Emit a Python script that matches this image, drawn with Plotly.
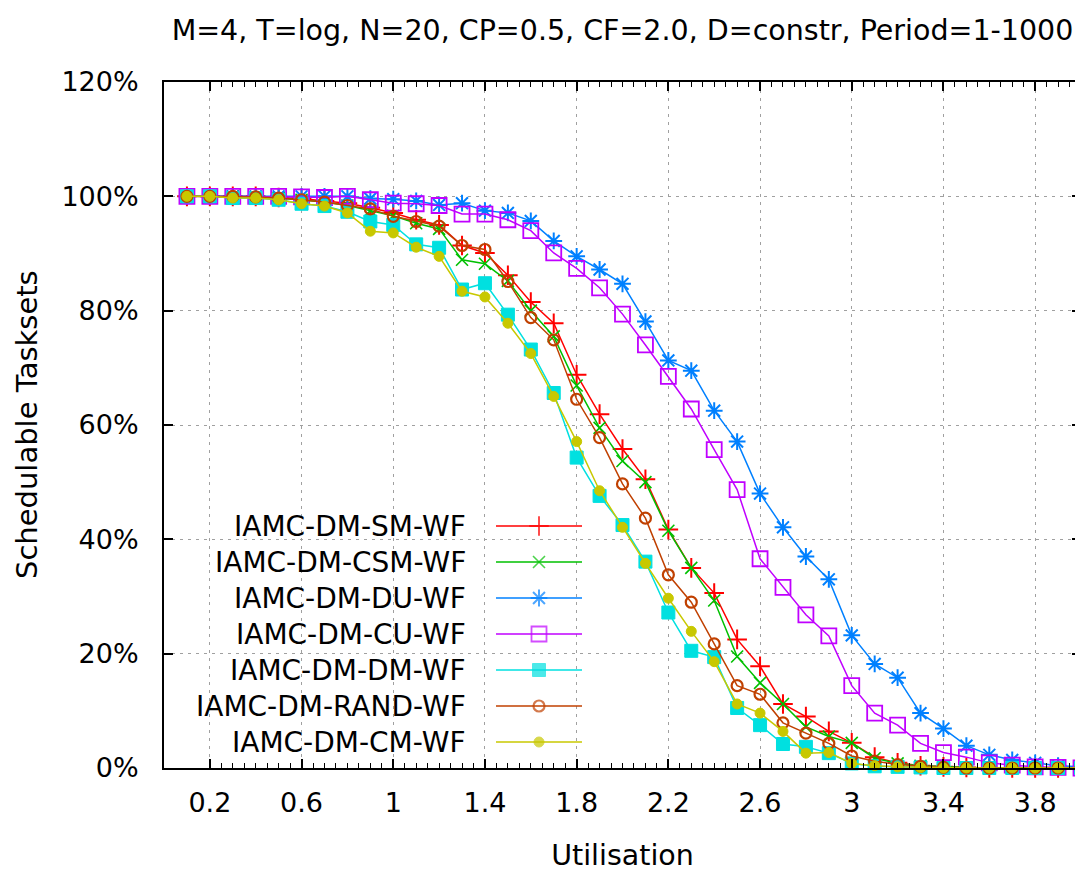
import plotly.graph_objects as go

# ---------------- data ----------------
utilisation = [round(0.1 * k, 1) for k in range(1, 41)]

sm_wf = [100, 100, 100, 100, 99.8, 99.6, 99.2, 98.8, 98.0, 97.1,
         95.9, 95.0, 91.4, 90.1, 86.2, 81.5, 77.8, 68.8, 61.9, 55.8,
         50.5, 41.7, 35.0, 30.6, 22.5, 17.8, 11.2, 9.0, 6.4, 4.4,
         1.9, 0.9, 0.4, 0.2, 0.1, 0, 0, 0, 0, 0]
csm_wf = [100, 100, 100, 99.9, 99.7, 99.4, 99.0, 98.4, 97.5, 96.6,
          95.3, 94.3, 88.9, 88.2, 85.2, 80.0, 75.5, 66.9, 59.5, 53.7,
          50.0, 41.5, 35.0, 29.3, 19.5, 14.9, 11.2, 7.2, 5.5, 4.4,
          1.7, 0.8, 0.4, 0.2, 0.1, 0, 0, 0, 0, 0]
du_wf = [100, 100, 100, 100, 100, 100, 100, 100, 99.6, 99.5,
         99.2, 98.5, 98.8, 97.5, 97.1, 95.7, 92.2, 89.5, 87.2, 84.7,
         78.1, 71.3, 69.5, 62.5, 57.1, 48.0, 42.1, 37.0, 33.0, 23.2,
         18.2, 15.8, 9.6, 6.9, 3.9, 2.3, 1.4, 0.9, 0.4, 0.2]
cu_wf = [100, 100, 100, 100, 100, 99.9, 99.8, 100, 99.4, 98.8,
         98.7, 98.4, 96.9, 96.9, 95.9, 94.0, 90.1, 87.4, 84.0, 79.4,
         74.0, 68.5, 62.8, 55.7, 48.7, 36.6, 31.6, 26.8, 23.1, 14.4,
         9.6, 7.5, 4.3, 2.7, 1.9, 0.9, 0.5, 0.2, 0.1, 0]
dm_wf = [100, 100, 99.7, 99.7, 99.4, 98.7, 98.3, 97.3, 95.6, 95.0,
         91.6, 91.0, 83.7, 84.8, 79.3, 73.2, 65.6, 54.3, 47.6, 42.5,
         36.1, 27.2, 20.5, 19.4, 10.5, 7.5, 4.2, 3.7, 2.6, 0.8,
         0.3, 0.2, 0.1, 0, 0, 0, 0, 0, 0, 0]
rand_wf = [100, 100, 100, 99.9, 99.7, 99.4, 99.0, 98.4, 97.8, 96.5,
           95.6, 94.8, 91.4, 90.7, 85.1, 78.8, 74.9, 64.5, 57.8, 49.7,
           43.7, 33.8, 29.0, 21.7, 14.4, 12.9, 7.9, 6.1, 4.3, 2.1,
           1.2, 0.6, 0.3, 0.1, 0, 0, 0, 0, 0, 0]
cm_wf = [100, 100, 99.7, 99.7, 99.4, 98.7, 98.3, 97.1, 93.9, 93.6,
         91.1, 89.5, 83.4, 82.4, 77.8, 72.5, 65.0, 57.1, 48.5, 42.1,
         35.8, 29.7, 23.9, 18.6, 11.2, 9.6, 6.4, 2.6, 2.7, 0.8,
         0.4, 0.2, 0.1, 0, 0, 0, 0, 0, 0, 0]

series_names = ["IAMC-DM-SM-WF", "IAMC-DM-CSM-WF", "IAMC-DM-DU-WF", "IAMC-DM-CU-WF",
                "IAMC-DM-DM-WF", "IAMC-DM-RAND-WF", "IAMC-DM-CM-WF"]
series_values = [sm_wf, csm_wf, du_wf, cu_wf, dm_wf, rand_wf, cm_wf]

x_tick_vals = [0.2, 0.6, 1.0, 1.4, 1.8, 2.2, 2.6, 3.0, 3.4, 3.8]
x_tick_text = ["0.2", "0.6", "1", "1.4", "1.8", "2.2", "2.6", "3", "3.4", "3.8"]
x_minor_vals = [round(0.2 + 0.05 * k, 2) for k in range(0, 77)]
y_tick_vals = [0, 20, 40, 60, 80, 100, 120]
y_tick_text = ["0%", "20%", "40%", "60%", "80%", "100%", "120%"]

# ---------------- styles ----------------
colors = ["#ff0000", "#00c000", "#0080ff", "#c000ff", "#00e0e0", "#c04000", "#c8c800"]
symbols = ["cross-thin-open", "x-thin-open", "asterisk-open", "square-open",
           "square", "circle-open", "circle"]
msizes = [14, 12, 14, 15, 13, 11, 10]
mlw = [2, 1.6, 2, 1.8, 1, 2.2, 1]

FONT = "DejaVu Sans"
OFF = 8  # page body margin of the browser
W, H = 1083 - OFF, 874 - OFF
# plot area in page pixels: x 164..1081, y 82..768
L, R, T = 164 - OFF, 2, 82 - OFF
B = H - (768 - OFF)
PW, PH = W - L - R, H - T - B

def px_x(p):
    """page pixel x -> paper"""
    return (p - OFF - L) / PW

def px_y(p):
    """page pixel y -> paper"""
    return (H - B - (p - OFF)) / PH

fig = go.Figure()

for name, vals, c, s, ms, lw in zip(series_names, series_values, colors, symbols, msizes, mlw):
    fig.add_trace(go.Scatter(
        x=utilisation, y=vals, mode="lines+markers", name=name,
        line=dict(color=c, width=1.5),
        marker=dict(symbol=s, size=ms, color=c, line=dict(color=c, width=lw)),
        showlegend=False, cliponaxis=False,
    ))

# ---------------- manual key (gnuplot style: text then sample) ----------------
key_text_right = 468
key_line_x = [px_x(496), px_x(539), px_x(582)]
key_row0 = 526
key_step = 36
for i, (name, c, s, ms, lw) in enumerate(zip(series_names, colors, symbols, msizes, mlw)):
    ry = px_y(key_row0 + key_step * i)
    fig.add_trace(go.Scatter(
        x=key_line_x, y=[ry] * 3, xaxis="x2", yaxis="y2", mode="lines+markers",
        line=dict(color=c, width=1.5),
        marker=dict(symbol=s, size=[0, ms, 0], color=c, line=dict(color=c, width=lw)),
        showlegend=False, hoverinfo="skip",
    ))
    fig.add_annotation(x=px_x(key_text_right), y=ry, xref="paper", yref="paper",
                       text=name, showarrow=False, xanchor="right", yanchor="middle",
                       font=dict(family=FONT, size=28, color="#000000"))

# white key box hiding the grid
fig.add_shape(type="rect", xref="paper", yref="paper",
              x0=px_x(184), x1=px_x(598), y0=px_y(757), y1=px_y(510),
              fillcolor="white", line=dict(width=0), layer="between")

# y axis title
fig.add_annotation(x=px_x(27), y=px_y(425), xref="paper", yref="paper",
                   text="Schedulable Tasksets", textangle=-90, showarrow=False,
                   xanchor="center", yanchor="middle",
                   font=dict(family=FONT, size=29, color="#000000"))

grid_style = dict(showgrid=True, gridcolor="#a0a0a0", gridwidth=1, griddash="3px,5px")

fig.update_layout(
    width=W, height=H,
    margin=dict(l=L, r=R, t=T, b=B, autoexpand=False),
    paper_bgcolor="white", plot_bgcolor="white",
    font=dict(family=FONT, size=27, color="#000000"),
    title=dict(text="M=4, T=log, N=20, CP=0.5, CF=2.0, D=constr, Period=1-1000",
               x=0.5, xref="paper", xanchor="center", y=1 - (30 - OFF) / H, yref="container",
               yanchor="middle", font=dict(family=FONT, size=28.5, color="#000000")),
    xaxis=dict(range=[0, 4], tickvals=x_tick_vals, ticktext=x_tick_text,
               ticks="inside", ticklen=9, tickwidth=1.5, tickcolor="black",
               showline=True, linecolor="black", linewidth=2, mirror="ticks",
               zeroline=False, ticklabelstandoff=10, automargin=False,
               minor=dict(tickvals=x_minor_vals, ticks="inside", ticklen=5,
                          tickwidth=1, tickcolor="black", showgrid=False),
               title=dict(text="Utilisation", standoff=28,
                          font=dict(family=FONT, size=28.5)),
               **grid_style),
    yaxis=dict(range=[0, 120], tickvals=y_tick_vals, ticktext=y_tick_text,
               ticks="inside", ticklen=9, tickwidth=1.5, tickcolor="black",
               showline=True, linecolor="black", linewidth=2, mirror="ticks",
               zeroline=False, ticklabelstandoff=18, automargin=False,
               **grid_style),
    xaxis2=dict(range=[0, 1], overlaying="x", visible=False, fixedrange=True),
    yaxis2=dict(range=[0, 1], overlaying="y", visible=False, fixedrange=True),
)

fig.write_html("out.html")
